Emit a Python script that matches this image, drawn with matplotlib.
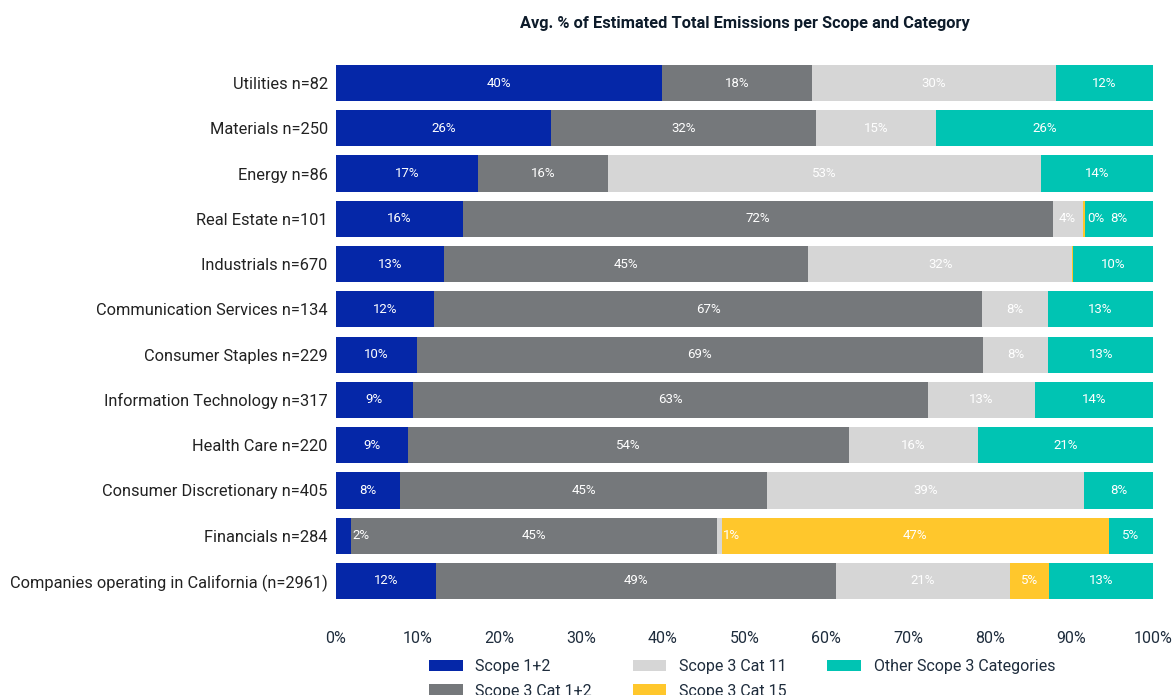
import matplotlib
matplotlib.use("Agg")
import matplotlib.pyplot as plt
import numpy as np

plt.rcParams["font.family"] = ["Roboto", "DejaVu Sans"]

categories = [
    "Utilities n=82",
    "Materials n=250",
    "Energy n=86",
    "Real Estate n=101",
    "Industrials n=670",
    "Communication Services n=134",
    "Consumer Staples n=229",
    "Information Technology n=317",
    "Health Care n=220",
    "Consumer Discretionary n=405",
    "Financials n=284",
    "Companies operating in California (n=2961)",
]

series_names = [
    "Scope 1+2",
    "Scope 3 Cat 1+2",
    "Scope 3 Cat 11",
    "Scope 3 Cat 15",
    "Other Scope 3 Categories",
]

scope_1_2 = [39.9, 26.3, 17.4, 15.5, 13.2, 12.0, 9.9, 9.4, 8.8, 7.8, 1.8, 12.2]
scope3_cat1_2 = [18.4, 32.4, 15.9, 72.2, 44.6, 67.1, 69.3, 63.0, 54.0, 45.0, 44.8, 49.0]
scope3_cat11 = [29.8, 14.8, 53.0, 3.7, 32.3, 8.0, 8.0, 13.1, 15.8, 38.8, 0.6, 21.3]
scope3_cat15 = [0.0, 0.0, 0.0, 0.3, 0.1, 0.0, 0.0, 0.0, 0.0, 0.0, 47.4, 4.8]
other_scope3 = [11.9, 26.5, 13.7, 8.3, 9.8, 12.9, 12.8, 14.5, 21.4, 8.4, 5.4, 12.7]

colors = ["#0527A8", "#75787B", "#D6D6D6", "#FFC72C", "#00C4B3"]
x_ticks = [0, 10, 20, 30, 40, 50, 60, 70, 80, 90, 100]
x_tick_labels = [f"{t}%" for t in x_ticks]

data = np.array([scope_1_2, scope3_cat1_2, scope3_cat11, scope3_cat15, other_scope3])

fig = plt.figure(figsize=(11.75, 6.95), dpi=100)
ax = fig.add_axes([336 / 1175, 1 - 603.6 / 695, (1153 - 336) / 1175, (603.6 - 60.4) / 695])

y = np.arange(len(categories))
left = np.zeros(len(categories))
for name, vals, col in zip(series_names, data, colors):
    ax.barh(y, vals, left=left, height=0.8, color=col, label=name, linewidth=0)
    for yi, l, v in zip(y, left, vals):
        if v < 0.25:
            continue
        txt = f"{round(v):d}%"
        if v < 2.5:
            ax.text(l + v + 0.2, yi, txt, ha="left", va="center",
                    color="white", fontsize=9.5)
        else:
            ax.text(l + v / 2, yi, txt, ha="center", va="center",
                    color="white", fontsize=9.5)
    left = left + np.array(vals)

ax.set_xlim(0, 100)
ax.set_ylim(len(categories) - 0.5, -0.5)
ax.set_yticks(y)
ax.set_yticklabels(categories, fontsize=11.8, color="#222222")
ax.set_xticks(x_ticks)
ax.set_xticklabels(x_tick_labels, fontsize=11.5, color="#1f2d3d")
ax.tick_params(axis="both", length=0)
ax.tick_params(axis="x", pad=20)
ax.tick_params(axis="y", pad=6)
for s in ax.spines.values():
    s.set_visible(False)

ax.set_title("Avg. % of Estimated Total Emissions per Scope and Category",
             fontsize=11.8, fontweight="bold", color="#0d1b2a", pad=23)

leg = fig.legend(loc="upper left", bbox_to_anchor=(429 / 1175, 1 - 659 / 695),
                 ncol=3, frameon=False, fontsize=11.5, handlelength=2.1,
                 handleheight=0.75, columnspacing=2.55, labelspacing=0.6,
                 handletextpad=0.8, borderaxespad=0, borderpad=0)
for t in leg.get_texts():
    t.set_color("#1f2d3d")

fig.savefig("out.png", dpi=100)
